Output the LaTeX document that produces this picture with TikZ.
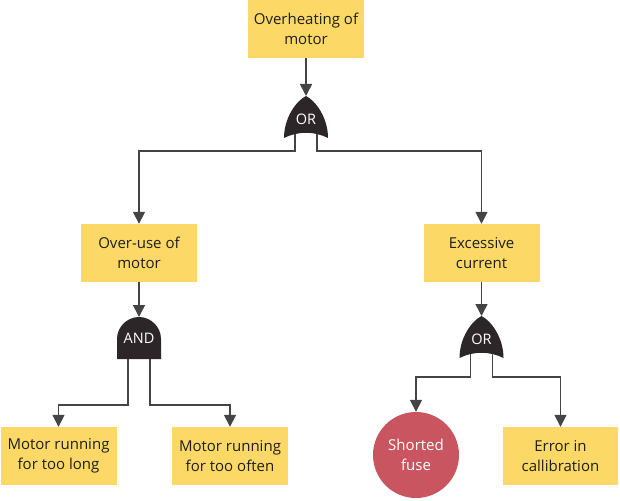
\documentclass[tikz,border=0pt]{standalone}
\usepackage{fontspec}
\setmainfont{Open Sans}
\usetikzlibrary{arrows.meta}
\definecolor{boxy}{HTML}{FCD966}
\definecolor{redc}{HTML}{C8555F}
\definecolor{gatec}{HTML}{2C2628}
\definecolor{linec}{HTML}{444444}
\definecolor{txtc}{HTML}{1E1E1E}
\begin{document}
\begin{tikzpicture}[x=1pt,y=-1pt,
  ev/.style={fill=boxy, text=txtc, minimum width=116pt, minimum height=58pt, inner sep=0pt, align=center, font=\fontsize{15}{20.5}\selectfont},
  basic/.style={fill=redc, circle, text=white, minimum size=86pt, inner sep=0pt, align=center, font=\fontsize{15}{20.5}\selectfont},
  conn/.style={draw=linec, line width=1.6pt},
  arr/.style={conn, -{Triangle[length=12pt,width=12pt]}},
  gatetxt/.style={text=white, font=\fontsize{14.5}{16}\selectfont, inner sep=0pt},
  orgate/.pic={
    \fill[gatec] (0,0) .. controls (10,5) and (22,22) .. (22,42)
      .. controls (8,35) and (-8,35) .. (-22,42)
      .. controls (-22,22) and (-10,5) .. (0,0) -- cycle;
    \coordinate (-top) at (0,0);
    \coordinate (-l) at (-11,38);
    \coordinate (-r) at (11,38);
    \node[gatetxt] (-txt) at (0,23) {OR};
  },
  andgate/.pic={
    \fill[gatec] (-22,42) -- (-22,22) .. controls (-22,10) and (-12,0) .. (0,0)
      .. controls (12,0) and (22,10) .. (22,22) -- (22,42) -- cycle;
    \coordinate (-top) at (0,0);
    \coordinate (-l) at (-11,42);
    \coordinate (-r) at (11,42);
    \node[gatetxt] (-txt) at (0,21) {AND};
  }
]
\useasboundingbox (0,0) rectangle (620,500);

\node[ev] (top) at (306,29) {Overheating of\\motor};
\node[ev] (overuse) at (139,253) {Over-use of\\motor};
\node[ev] (excess) at (481.5,253) {Excessive\\current};
\node[ev] (long) at (58.5,456) {Motor running\\for too long};
\node[ev] (often) at (230,456) {Motor running\\for too often};
\node[ev, minimum width=115pt] (error) at (560.5,456) {Error in\\callibration};
\node[basic] (fuse) at (416,455) {Shorted\\fuse};

\pic (g1) at (306,96) {orgate};
\pic (g2) at (139,317) {andgate};
\pic (g3) at (481.5,316) {orgate};

\draw[arr] (top.south) -- (g1-top);
\draw[arr] (g1-l) -- ++(0,17) -| (overuse.north);
\draw[arr] (g1-r) -- ++(0,17) -| (excess.north);
\draw[arr] (overuse.south) -- (g2-top);
\draw[arr] (g2-l) -- ++(0,46) -| (long.north);
\draw[arr] (g2-r) -- ++(0,46) -| (often.north);
\draw[arr] (excess.south) -- (g3-top);
\draw[arr] (g3-l) -- ++(0,23) -| (fuse.north);
\draw[arr] (g3-r) -- ++(0,23) -| (error.north);
\end{tikzpicture}
\end{document}
